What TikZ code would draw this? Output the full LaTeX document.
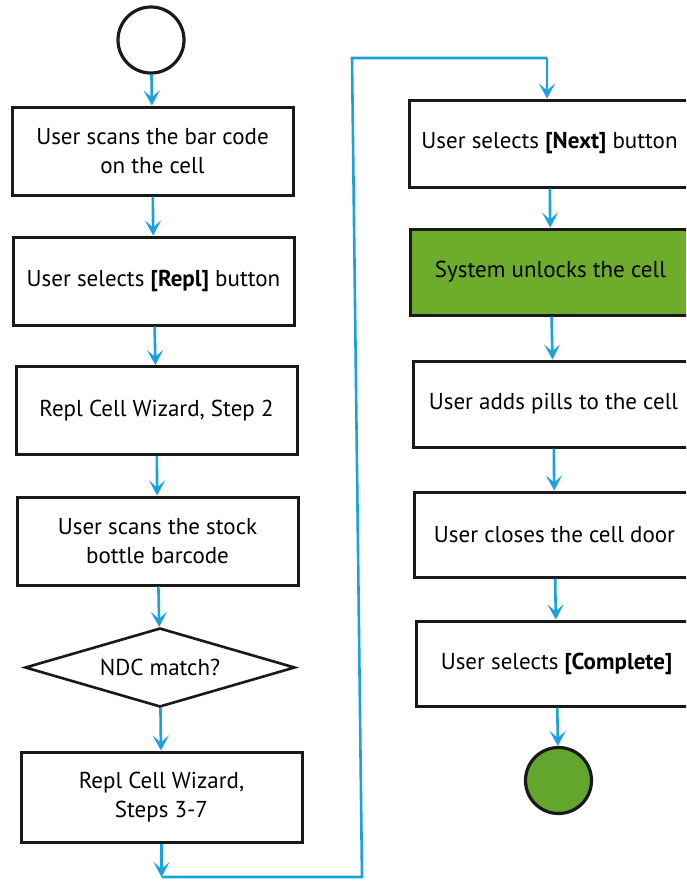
\documentclass[tikz,border=0pt]{standalone}
\usepackage{fontspec}
\setmainfont{PT Sans}
\usetikzlibrary{arrows.meta,shapes.geometric}
\definecolor{flowblue}{RGB}{27,160,226}
\definecolor{flowgreen}{RGB}{110,172,44}
\definecolor{endgreen}{RGB}{100,165,45}
\definecolor{edge}{RGB}{25,25,25}
\tikzset{
  stepbox/.style={draw=edge, line width=3pt, rectangle, minimum width=281pt, minimum height=88pt,
    align=center, font=\fontsize{23}{29}\selectfont, inner sep=2pt},
  decbox/.style={draw=edge, line width=2.6pt, diamond, aspect=3.4, minimum width=270pt, minimum height=79pt,
    inner sep=0pt, font=\fontsize{23}{29}\selectfont},
  flow/.style={draw=flowblue, line width=2.6pt, -{Stealth[length=15pt,width=16pt,inset=7pt]}},
  flowline/.style={draw=flowblue, line width=2.6pt},
  term/.style={circle, draw=edge, line width=3.2pt, minimum size=66pt, inner sep=0pt}
}
\begin{document}
\begin{tikzpicture}[x=1pt,y=-1pt]
\useasboundingbox (0,0) rectangle (686,881);
\clip (0,0) rectangle (686,881);
\fill[white] (0,0) rectangle (686,881);
% left column
\node[term, fill=white] (start) at (151,40) {};
\node[stepbox] (b1) at (152.5,151) {User scans the bar code\\on the cell};
\node[stepbox] (b2) at (153.5,281) {User selects \textbf{[Repl]} button};
\node[stepbox] (b3) at (156.5,410.5) {Repl Cell Wizard, Step 2};
\node[stepbox] (b4) at (157.5,541) {User scans the stock\\bottle barcode};
\node[decbox] (d1) at (160,667.5) {NDC match?};
\node[stepbox, minimum height=90pt] (b5) at (161.5,797) {Repl Cell Wizard,\\Steps 3-7};
% right column
\node[stepbox, minimum height=87pt] (r1) at (549.5,143.5) {User selects \textbf{[Next]} button};
\node[stepbox, minimum height=86pt, fill=flowgreen] (r2) at (550.5,272) {System unlocks the cell};
\node[stepbox, minimum height=86pt] (r3) at (553.5,404) {User adds pills to the cell};
\node[stepbox, minimum height=85pt] (r4) at (554.5,534.5) {User closes the cell door};
\node[stepbox, minimum height=85pt] (r5) at (556.5,663.5) {User selects \textbf{[Complete]}};
\node[term, fill=endgreen] (end) at (558.5,780.5) {};
% connectors
\coordinate (c1) at (161.5,877);
\coordinate (c2) at (362,877);
\coordinate (c3) at (352,58);
\coordinate (c4) at (547,58);
\draw[flow] (start) -- (b1);
\draw[flow] (b1) -- (b2);
\draw[flow] (b2) -- (b3);
\draw[flow] (b3) -- (b4);
\draw[flow] (b4) -- (d1);
\draw[flow] (d1) -- (b5);
\draw[flow] (b5) -- (c1);
\draw[flowline, line join=miter] (c1) -- (c2) -- (c3) -- (c4);
\draw[flow] (c4) -- (c4 |- r1.north);
\draw[flow] (r1) -- (r2);
\draw[flow] (r2) -- (r3);
\draw[flow] (r3) -- (r4);
\draw[flow] (r4) -- (r5);
\draw[flow] (r5) -- (end);
\end{tikzpicture}
\end{document}
